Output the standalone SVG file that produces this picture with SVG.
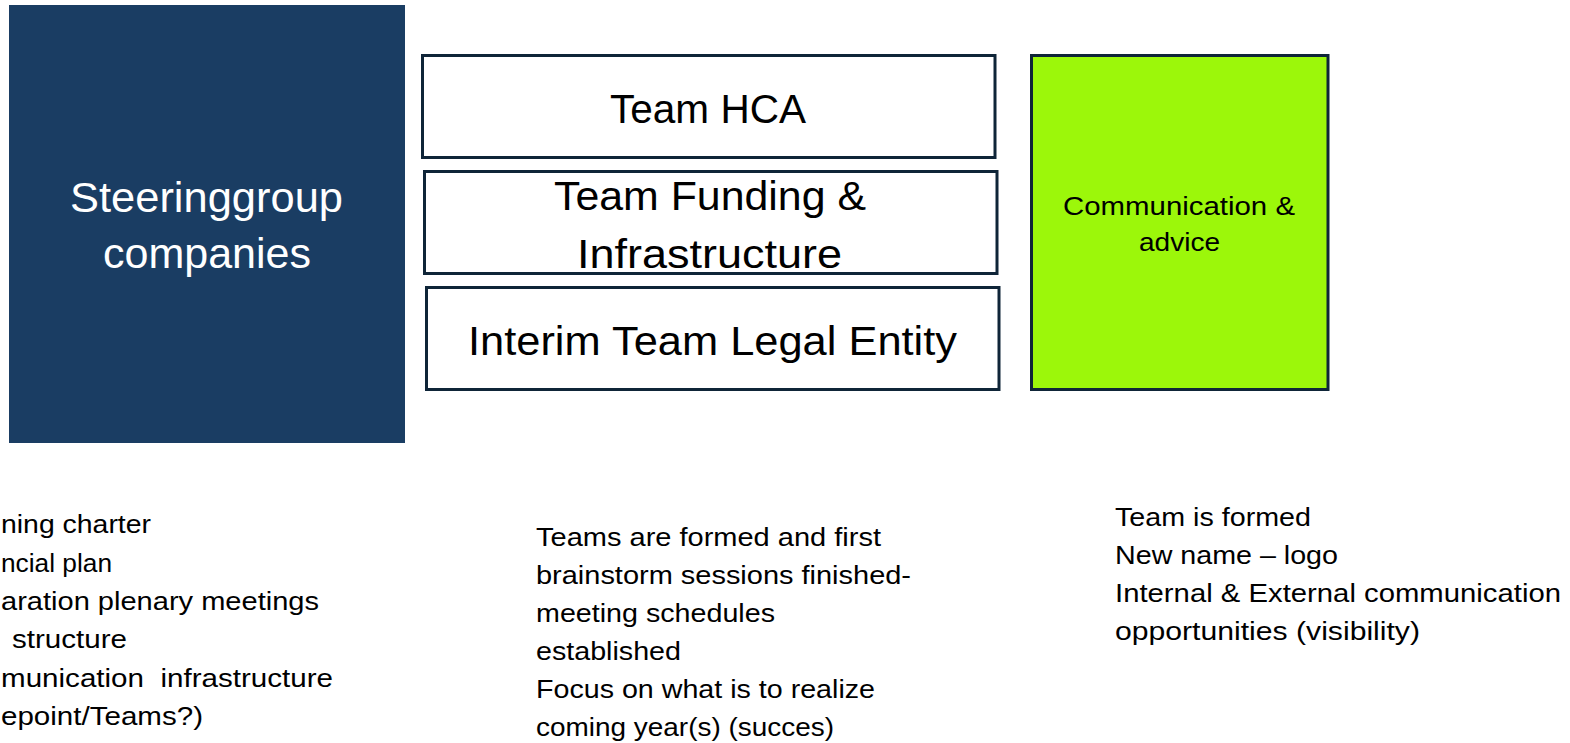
<svg xmlns="http://www.w3.org/2000/svg" width="1570" height="743" viewBox="0 0 1570 743">
<style>
  text { font-family: "Liberation Sans", Arial, sans-serif; fill: #000; }
  .box { fill: #ffffff; stroke: #0f2538; stroke-width: 3; }
  .big { font-size: 40px; text-anchor: middle; }
  .body { font-size: 25px; }
  .white { fill: #ffffff; font-size: 42px; text-anchor: middle; }
  .mid { font-size: 25px; text-anchor: middle; }
</style>
<rect width="1570" height="743" fill="#ffffff"/>
<g id="steeringgroup">
  <rect x="9" y="5" width="396" height="438" fill="#1a3d63"/>
  <text class="white" x="206.5" y="212" textLength="273" lengthAdjust="spacingAndGlyphs">Steeringgroup</text>
  <text class="white" x="207" y="268" textLength="208" lengthAdjust="spacingAndGlyphs">companies</text>
</g>
<g id="team-hca">
  <rect class="box" x="422.5" y="55.5" width="572.5" height="102"/>
  <text class="big" x="708" y="123" textLength="196" lengthAdjust="spacingAndGlyphs">Team HCA</text>
</g>
<g id="team-funding">
  <rect class="box" x="424.5" y="171.5" width="572.5" height="102"/>
  <text class="big" x="710" y="210" textLength="312" lengthAdjust="spacingAndGlyphs">Team Funding &amp;</text>
  <text class="big" x="709.5" y="268" textLength="265" lengthAdjust="spacingAndGlyphs">Infrastructure</text>
</g>
<g id="team-legal">
  <rect class="box" x="426.5" y="287.5" width="572.5" height="102"/>
  <text class="big" x="712.5" y="355" textLength="489" lengthAdjust="spacingAndGlyphs">Interim Team Legal Entity</text>
</g>
<g id="communication">
  <rect x="1031.5" y="55.5" width="296.5" height="334" fill="#9cf70a" stroke="#0f2538" stroke-width="3"/>
  <text class="mid" x="1179" y="215" textLength="232" lengthAdjust="spacingAndGlyphs">Communication &amp;</text>
  <text class="mid" x="1179.5" y="251" textLength="81" lengthAdjust="spacingAndGlyphs">advice</text>
</g>
<g id="notes-left">
  <text class="body" x="1" y="533" textLength="150" lengthAdjust="spacingAndGlyphs">ning charter</text>
  <text class="body" x="1" y="572" textLength="111" lengthAdjust="spacingAndGlyphs">ncial plan</text>
  <text class="body" x="1" y="610" textLength="318" lengthAdjust="spacingAndGlyphs">aration plenary meetings</text>
  <text class="body" x="12" y="648" textLength="115" lengthAdjust="spacingAndGlyphs">structure</text>
  <text class="body" x="1" y="687" textLength="332" lengthAdjust="spacingAndGlyphs" style="white-space:pre">munication  infrastructure</text>
  <text class="body" x="1" y="725" textLength="202" lengthAdjust="spacingAndGlyphs">epoint/Teams?)</text>
</g>
<g id="notes-middle">
  <text class="body" x="536" y="546" textLength="345" lengthAdjust="spacingAndGlyphs">Teams are formed and first</text>
  <text class="body" x="536" y="584" textLength="375" lengthAdjust="spacingAndGlyphs">brainstorm sessions finished-</text>
  <text class="body" x="536" y="622" textLength="239" lengthAdjust="spacingAndGlyphs">meeting schedules</text>
  <text class="body" x="536" y="660" textLength="145" lengthAdjust="spacingAndGlyphs">established</text>
  <text class="body" x="536" y="698" textLength="339" lengthAdjust="spacingAndGlyphs">Focus on what is to realize</text>
  <text class="body" x="536" y="736" textLength="298" lengthAdjust="spacingAndGlyphs">coming year(s) (succes)</text>
</g>
<g id="notes-right">
  <text class="body" x="1115" y="526" textLength="196" lengthAdjust="spacingAndGlyphs">Team is formed</text>
  <text class="body" x="1115" y="564" textLength="223" lengthAdjust="spacingAndGlyphs">New name – logo</text>
  <text class="body" x="1115" y="602" textLength="446" lengthAdjust="spacingAndGlyphs">Internal &amp; External communication</text>
  <text class="body" x="1115" y="640" textLength="305" lengthAdjust="spacingAndGlyphs">opportunities (visibility)</text>
</g>
<g id="connectors"/>
</svg>
